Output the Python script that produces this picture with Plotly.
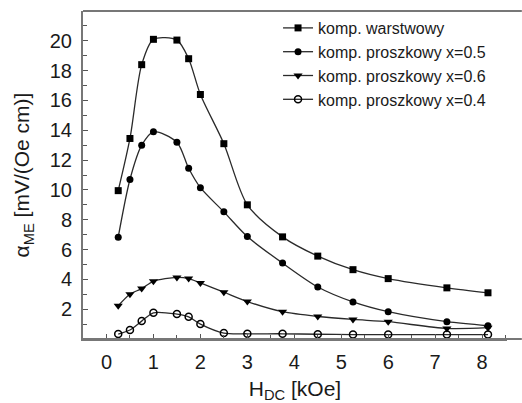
import plotly.graph_objects as go

# Data
h_dc = [0.25, 0.5, 0.75, 1.0, 1.5, 1.75, 2.0, 2.5, 3.0, 3.75, 4.5, 5.25, 6.0, 7.25, 8.125]

warstwowy = [9.95, 13.45, 18.4, 20.1, 20.05, 18.8, 16.4, 13.1, 9.0, 6.85, 5.56, 4.65, 4.05, 3.43, 3.1]
proszkowy_05 = [6.83, 10.7, 13.0, 13.9, 13.2, 11.45, 10.15, 8.53, 6.87, 5.09, 3.49, 2.49, 1.83, 1.16, 0.89]
proszkowy_06 = [2.23, 3.0, 3.38, 3.87, 4.13, 4.05, 3.76, 3.14, 2.51, 1.83, 1.51, 1.31, 1.16, 0.71, 0.76]
proszkowy_04 = [0.33, 0.6, 1.2, 1.76, 1.67, 1.49, 1.0, 0.4, 0.35, 0.35, 0.32, 0.3, 0.3, 0.3, 0.3]

names = ["komp. warstwowy", "komp. proszkowy x=0.5", "komp. proszkowy x=0.6", "komp. proszkowy x=0.4"]
series = [warstwowy, proszkowy_05, proszkowy_06, proszkowy_04]

x_tickvals = [0, 1, 2, 3, 4, 5, 6, 7, 8]
y_tickvals = [2, 4, 6, 8, 10, 12, 14, 16, 18, 20]

line_color = "#2a2a2a"
markers = [
    dict(symbol="square", size=7, color="black"),
    dict(symbol="circle", size=7, color="black"),
    dict(symbol="triangle-down", size=8, color="black"),
    dict(symbol="circle-open", size=7, color="black", line=dict(width=1.5, color="black")),
]

fig = go.Figure()
for name, ys, mk in zip(names, series, markers):
    fig.add_trace(go.Scatter(
        x=h_dc, y=ys, name=name, mode="lines+markers",
        line=dict(color=line_color, width=1.3, shape="spline", smoothing=0.8),
        marker=mk,
    ))

font_family = "Liberation Sans, Arial, sans-serif"

fig.update_layout(
    width=522, height=403,
    margin=dict(l=83, r=15, t=11, b=64, autoexpand=False),
    paper_bgcolor="white", plot_bgcolor="white",
    font=dict(family=font_family, color="#1a1a1a"),
    showlegend=True,
    legend=dict(
        x=0.46, y=1.0, xanchor="left", yanchor="top",
        font=dict(size=16, family=font_family, color="#1a1a1a"),
        bgcolor="rgba(0,0,0,0)", borderwidth=0, tracegroupgap=0, itemwidth=30,
    ),
    xaxis=dict(
        range=[-0.5, 8.53], automargin=False,
        tickvals=x_tickvals, ticks="inside", ticklen=5, tickwidth=1,
        tickcolor="#555", showline=True, linecolor="#777", linewidth=2,
        mirror=False, showgrid=False, zeroline=False,
        tickfont=dict(size=20), ticklabelstandoff=4,
        minor=dict(dtick=0.5, tick0=0, ticks="inside", ticklen=4, tickcolor="#555", showgrid=False),
        title=dict(text="H<sub>DC</sub> [kOe]", font=dict(size=21), standoff=24),
    ),
    yaxis=dict(
        range=[0, 22], automargin=False,
        tickvals=y_tickvals, ticks="inside", ticklen=5, tickwidth=1,
        tickcolor="#555", showline=True, linecolor="#777", linewidth=2,
        mirror=False, showgrid=False, zeroline=False,
        tickfont=dict(size=20), ticklabelstandoff=5,
        minor=dict(dtick=1, tick0=1, ticks="inside", ticklen=4, tickcolor="#555", showgrid=False),
        title=dict(text="α<sub>ME</sub> [mV/(Oe cm)]", font=dict(size=21), standoff=14),
    ),
    shapes=[dict(type="line", xref="paper", yref="paper", x0=0, x1=1.035, y0=1, y1=1,
                 line=dict(color="#777", width=2)),
            dict(type="line", xref="paper", yref="paper", x0=0, x1=1.035, y0=0, y1=0,
                 line=dict(color="#777", width=2))],
)

fig.write_html("out.html", config={"displayModeBar": False})
